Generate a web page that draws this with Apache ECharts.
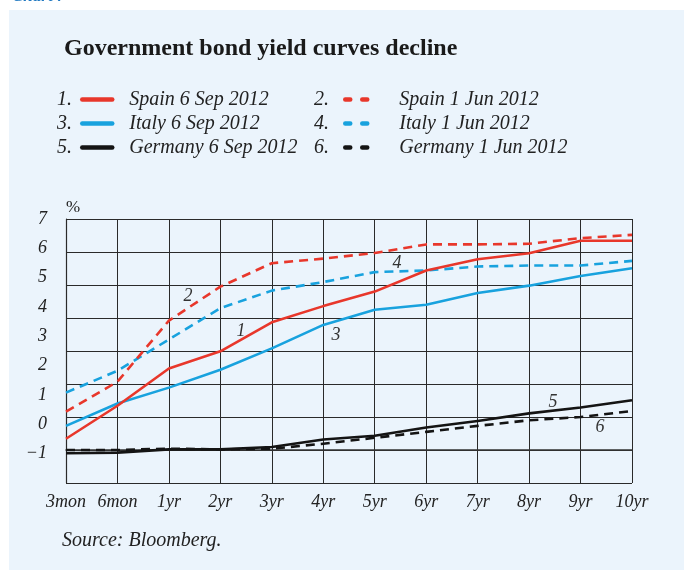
<!DOCTYPE html>
<html><head><meta charset="utf-8">
<script src="https://cdn.jsdelivr.net/npm/echarts@6/dist/echarts.min.js"></script>
<style>html,body{margin:0;padding:0;background:#fff}#chart{width:684px;height:570px}</style>
</head><body><div id="chart"></div>
<script>
// ---- data ----
const categories = ['3mon','6mon','1yr','2yr','3yr','4yr','5yr','6yr','7yr','8yr','9yr','10yr'];
const spainSep   = [0.34, 1.34, 2.47, 2.99, 3.87, 4.36, 4.80, 5.44, 5.78, 5.96, 6.34, 6.34];
const spainJun   = [1.16, 2.07, 3.92, 4.95, 5.66, 5.80, 5.97, 6.23, 6.23, 6.25, 6.42, 6.52];
const italySep   = [0.73, 1.41, 1.89, 2.43, 3.08, 3.79, 4.25, 4.40, 4.76, 4.98, 5.27, 5.51];
const italyJun   = [1.74, 2.40, 3.35, 4.30, 4.83, 5.09, 5.39, 5.44, 5.56, 5.59, 5.59, 5.73];
const germanySep = [-0.10, -0.08, 0.02, 0.02, 0.09, 0.32, 0.43, 0.68, 0.88, 1.11, 1.29, 1.51];
const germanyJun = [0.00, 0.00, 0.04, 0.02, 0.04, 0.19, 0.37, 0.55, 0.73, 0.90, 1.00, 1.18];
const yTickLabels = ['−1','0','1','2','3','4','5','6','7'];
const seriesNames = ['Spain 6 Sep 2012','Spain 1 Jun 2012','Italy 6 Sep 2012','Italy 1 Jun 2012','Germany 6 Sep 2012','Germany 1 Jun 2012'];
const legendNumbers = ['1.','2.','3.','4.','5.','6.'];
const curveTags = ['1','2','3','4','5','6'];

// ---- style ----
const RED = '#e8372b', BLUE = '#18a2de', BLACK = '#141414';
const SERIF = '"Liberation Serif", "DejaVu Serif", serif';
const BG = '#ebf4fc';

const chart = echarts.init(document.getElementById('chart'), null, {renderer:'canvas'});

function line(name, data, color, dashed, z) {
  return {
    name, type:'line', data, symbol:'none', showSymbol:false, z,
    xAxisIndex:0, yAxisIndex:0,
    lineStyle:{color, width:2.6, type: dashed ? [9,6] : 'solid', cap:'butt', join:'round'},
    itemStyle:{color}, emphasis:{disabled:true}, silent:true
  };
}

const rowY = [99.5, 123.5, 147.5];
function legendItem(name, row, col) {
  const dashed = col === 1;
  return {
    data:[name], orient:'horizontal', padding:0, selectedMode:false,
    left: dashed ? 343 : 80, top: rowY[row] - 10,
    itemWidth: dashed ? 22 : 30, itemHeight: 14,
    itemStyle:{opacity:0, borderWidth:0},
    lineStyle:{width:4.5, cap:'round', type: dashed ? [5,12] : 'solid'},
    textStyle:{fontFamily:SERIF, fontStyle:'italic', fontSize:20, color:'#222',
      padding:[0,0,0, dashed ? 27 : 12]}
  };
}

const tagPos = [[241,331],[188,296],[336,335],[397,263],[553,402],[600,427]];
const numPos = [[57,99.5],[314,99.5],[57,123.5],[314,123.5],[57,147.5],[314,147.5]];

const graphics = [
  {type:'rect', z:-100, silent:true, shape:{x:9, y:10, width:680, height:565}, style:{fill:BG}}
];
curveTags.forEach((t,i)=>graphics.push({type:'text', z:50, silent:true, x:tagPos[i][0], y:tagPos[i][1],
  style:{text:t, font:'italic 18px ' + SERIF, fill:'#333', align:'center', verticalAlign:'middle'}}));
legendNumbers.forEach((t,i)=>graphics.push({type:'text', z:50, silent:true, x:numPos[i][0], y:numPos[i][1],
  style:{text:t, font:'italic 20px ' + SERIF, fill:'#222', align:'left', verticalAlign:'middle'}}));
graphics.push({type:'text', z:50, silent:true, x:12, y:-12,
  style:{text:'Chart 7', font:'italic bold 17px ' + SERIF, fill:'#1f78c1', align:'left', verticalAlign:'top'}});

const option = {
  animation:false,
  backgroundColor:'#ffffff',
  title:[
    {text:'Government bond yield curves decline', left:64, top:37, padding:0,
      textStyle:{fontFamily:SERIF, fontWeight:'bold', fontSize:24, color:'#1a1a1a'}},
    {text:'Source: Bloomberg.', left:62, top:531, padding:0,
      textStyle:{fontFamily:SERIF, fontStyle:'italic', fontWeight:'normal', fontSize:20, color:'#222'}}
  ],
  legend:[
    legendItem(seriesNames[0],0,0), legendItem(seriesNames[1],0,1),
    legendItem(seriesNames[2],1,0), legendItem(seriesNames[3],1,1),
    legendItem(seriesNames[4],2,0), legendItem(seriesNames[5],2,1)
  ],
  grid:{left:66, top:219, width:566, height:264, show:false},
  xAxis:{
    type:'category', data:categories, boundaryGap:false,
    axisLine:{show:true, lineStyle:{color:'#333', width:1.5}},
    axisTick:{show:false},
    axisLabel:{interval:0, margin:10, fontFamily:SERIF, fontStyle:'italic', fontSize:18, color:'#222'},
    splitLine:{show:true, interval:0, lineStyle:{color:'#2a2a2a', width:1}}
  },
  yAxis:[
    {type:'value', min:-1, max:7, interval:1, position:'left',
      name:'%', nameLocation:'end', nameGap:3,
      nameTextStyle:{fontFamily:SERIF, fontSize:17, color:'#222', align:'left', verticalAlign:'bottom'},
      axisLine:{show:true, lineStyle:{color:'#2a2a2a', width:1.2}}, axisTick:{show:false},
      axisLabel:{show:false},
      splitLine:{show:true, lineStyle:{color:'#2a2a2a', width:1}}},
    {type:'value', min:-2, max:7, interval:1, position:'left',
      axisLine:{show:false}, axisTick:{show:false}, splitLine:{show:false},
      axisLabel:{margin:19, fontFamily:SERIF, fontStyle:'italic', fontSize:18, color:'#222',
        formatter:(v)=> (v >= -1 ? yTickLabels[v + 1] : '')}}
  ],
  graphic:graphics,
  series:[
    line(seriesNames[5], germanyJun, BLACK, true, 3),
    line(seriesNames[4], germanySep, BLACK, false, 4),
    line(seriesNames[3], italyJun, BLUE, true, 5),
    line(seriesNames[1], spainJun, RED, true, 6),
    line(seriesNames[2], italySep, BLUE, false, 7),
    line(seriesNames[0], spainSep, RED, false, 8)
  ]
};
chart.setOption(option);
</script>
</body></html>
